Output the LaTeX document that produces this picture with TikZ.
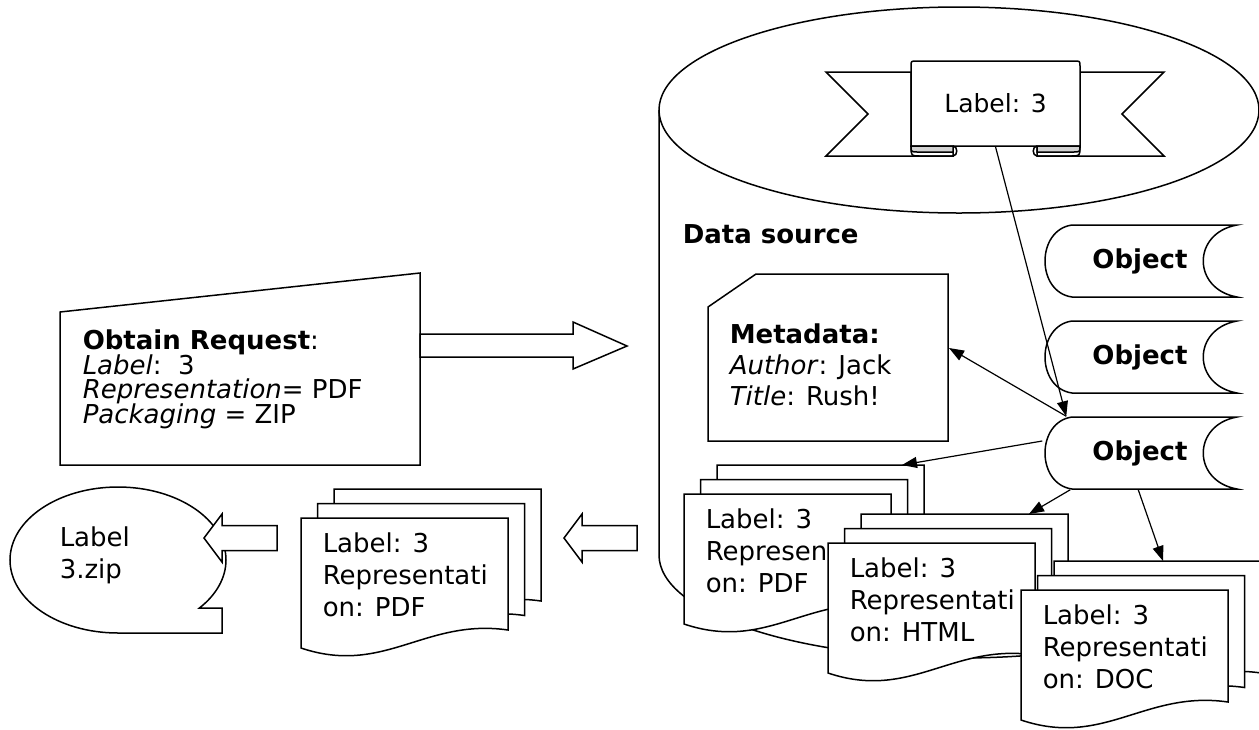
\documentclass[tikz,border=0pt]{standalone}
\usepackage{fontspec}
\setmainfont{DejaVu Sans}
\usetikzlibrary{arrows.meta}

\tikzset{
  txt/.style={font=\fontsize{26}{32}\selectfont, align=left, inner sep=0pt, anchor=north west},
  sheet/.style={draw, fill=white},
  objtxt/.style={font=\fontsize{26}{32}\selectfont\bfseries, inner sep=0pt, minimum width=194pt, minimum height=72pt},
  link/.style={-{Triangle[length=15pt,width=11pt]}, line width=1.2pt},
}

% one page of a representation, top left corner at (#1,#2)
\newcommand{\repsheet}[2]{%
  \begin{scope}[shift={(#1,#2)}]
    \filldraw[sheet] (0,0) -- (207,0) -- (207,112)
      .. controls (124,100) and (83,158) .. (0,130) -- cycle;
  \end{scope}}
% three pages, front page at (#2,#3)
\newcommand{\repstack}[4]{%
  \repsheet{#2+33}{#3-29}
  \repsheet{#2+16.5}{#3-14.5}
  \repsheet{#2}{#3}
  \coordinate (#1back) at (#2+33,#3-29);
  \node[txt] (#1text) at (#2+21,#3+14) {Label: 3\\#4};}

\begin{document}
\begin{tikzpicture}[x=1pt, y=-1pt, line width=1.5pt]
\useasboundingbox (0,0) rectangle (1259,729);
\clip (0,0) rectangle (1259,729);

% data source
\draw (659,110) -- (659,555) .. controls (659,612) and (793,658) .. (960,658)
  .. controls (1127,658) and (1263,612) .. (1263,555) -- (1263,110);
\filldraw[fill=white] (959,110) ellipse[x radius=300, y radius=103];
\node[txt, font=\fontsize{26}{32}\selectfont\bfseries, anchor=base west] (srcname) at (682,243) {Data source};

% label banner
\filldraw[fill=white] (911,72) -- (826,72) -- (868,114) -- (826,156) -- (953,156) -- (953,146) -- (911,146) -- cycle;
\filldraw[fill=white] (1080,72) -- (1164,72) -- (1122,114) -- (1164,156) -- (1037,156) -- (1037,146) -- (1080,146) -- cycle;
\filldraw[fill=white] (911,146) -- (911,66) .. controls (911,61) .. (917,61) -- (1074,61)
  .. controls (1080,61) .. (1080,66) -- (1080,146) -- cycle;
\filldraw[fill=gray!35] (911,146) .. controls (911,152) .. (918,152) -- (953,152) -- (953,146) -- cycle;
\draw (911,146) .. controls (911,156) .. (920,156) -- (953,156) .. controls (958,156) and (958,146) .. (953,146);
\filldraw[fill=gray!35] (1080,146) .. controls (1080,152) .. (1073,152) -- (1037,152) -- (1037,146) -- cycle;
\draw (1080,146) .. controls (1080,156) .. (1071,156) -- (1037,156) .. controls (1032,156) and (1032,146) .. (1037,146);
\node[font=\fontsize{25}{30}\selectfont, inner sep=0pt, minimum width=169pt, minimum height=85pt] (bannerlabel) at (995.5,103.5) {Label: 3};

% metadata
\filldraw[fill=white] (708,307) -- (756,274) -- (948,274) -- (948,441) -- (708,441) -- cycle;
\node[txt, font=\fontsize{26}{31}\selectfont] (metatext) at (729,323) {\textbf{Metadata:}\\\textit{Author}: Jack\\\textit{Title}: Rush!};
\coordinate (metaport) at (949,348);

% objects
\foreach \nm/\cy in {obj1/261, obj2/357, obj3/453}{
  \filldraw[fill=white] (1072,\cy-36) -- (1237,\cy-36) .. controls (1192,\cy-28) and (1192,\cy+28) .. (1237,\cy+36)
    -- (1072,\cy+36) .. controls (1036,\cy+31) and (1036,\cy-31) .. (1072,\cy-36) -- cycle;
  \node[objtxt] (\nm) at (1140,\cy) {Object};
}

% representations
\repstack{pdf}{684}{494}{Represen\\on: PDF}
\repstack{html}{828}{543}{Representati\\on: HTML}
\repstack{doc}{1021}{590}{Representati\\on: DOC}

\draw[link] (bannerlabel.south) -- ([xshift=24pt]obj3.north west);
\draw[link] ([xshift=24pt]obj3.north west) -- (metaport);
\draw[link] ([yshift=12pt]obj3.west) -- ([xshift=185pt]pdfback);
\draw[link] ([xshift=28pt]obj3.south west) -- ([xshift=168pt]htmlback);
\draw[link] ([xshift=96pt]obj3.south west) -- ([xshift=109pt]docback);

% request
\filldraw[fill=white] (60,312) -- (420,273) -- (420,465) -- (60,465) -- cycle;
\node[txt, font={\fontsize{26}{24.5}\selectfont\lineskiplimit-20pt}] (reqtext) at (82,329)
  {\textbf{Obtain Request}:\\\textit{Label}:\ \ 3\\\textit{Representation}= PDF\\\textit{Packaging} = ZIP};
\filldraw[fill=white] (420,334) -- (573,334) -- (573,322) -- (627,346) -- (573,369) -- (573,357) -- (420,357) -- cycle;

% result
\repstack{out}{301}{518}{Representati\\on: PDF}
\filldraw[fill=white] (637,525.5) -- (582,525.5) -- (582,514) -- (564,538) -- (582,562) -- (582,550.5) -- (637,550.5) -- cycle;
\filldraw[fill=white] (199.4,608) .. controls (216.5,594.7) and (226,577.6) .. (226,560)
  .. controls (226,519.7) and (177.6,487) .. (118,487) .. controls (58.4,487) and (10,519.7) .. (10,560)
  .. controls (10,600.3) and (58.4,633) .. (118,633) -- (222,633) -- (222,608) -- cycle;
\node[txt] (ziptext) at (59,526) {Label\\3.zip};
\filldraw[fill=white] (277,525.5) -- (222,525.5) -- (222,514) -- (204,538) -- (222,562) -- (222,550.5) -- (277,550.5) -- cycle;
\end{tikzpicture}
\end{document}
